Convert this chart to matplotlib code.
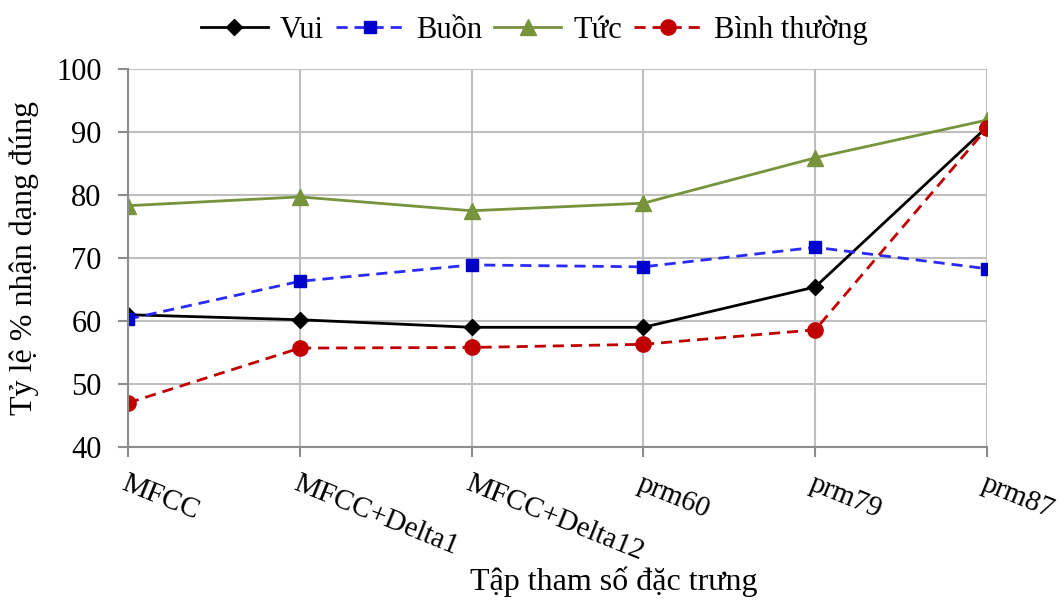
import numpy as np
import matplotlib.pyplot as plt

plt.rcParams['font.family'] = ['Liberation Serif', 'DejaVu Serif']

categories = ['MFCC', 'MFCC+Delta1', 'MFCC+Delta12', 'prm60', 'prm79', 'prm87']
vui = [61.0, 60.2, 59.0, 59.0, 65.4, 90.8]
buon = [60.3, 66.3, 68.9, 68.6, 71.7, 68.3]
tuc = [78.3, 79.7, 77.5, 78.7, 85.9, 91.9]
binh_thuong = [47.0, 55.7, 55.8, 56.3, 58.6, 90.6]

fig = plt.figure(figsize=(10.64, 6.01), dpi=100)
ax = fig.add_axes([128/1064, 1 - 447/601, (987-128)/1064, (447-69)/601])

x = np.arange(len(categories))
ax.plot(x, vui, color='black', lw=2, marker='D', ms=8, label='Vui')
ax.plot(x, buon, color='#2a2aff', lw=2, ls=(0, (4, 2.5)), marker='s', ms=9,
        mfc='#0000cc', mec='#0000cc', label='Buồn')
ax.plot(x, tuc, color='#77933c', lw=2, marker='^', ms=11, label='Tức')
ax.plot(x, binh_thuong, color='#c00000', lw=2, ls=(0, (4, 2.5)), marker='o', ms=11,
        label='Bình thường')

ax.set_xlim(0, len(categories) - 1)
ax.set_ylim(40, 100)
ax.set_yticks(range(40, 101, 10))
ax.set_xticks(x)
ax.set_xticklabels(categories, rotation=-22, ha='left', va='top', rotation_mode='anchor')
ax.grid(True, color='#bfbfbf', lw=1.5)
ax.set_axisbelow(True)
for s in ['top', 'right']:
    ax.spines[s].set_visible(False)
for s in ['left', 'bottom']:
    ax.spines[s].set_color('#8c8c8c')
    ax.spines[s].set_linewidth(1.5)
ax.tick_params(axis='both', colors='#8c8c8c', labelcolor='black', labelsize=22,
               length=7, width=1.5)
ax.tick_params(axis='x', labelsize=21, pad=10)
ax.tick_params(axis='y', pad=12)

ax.set_ylabel('Tỷ lệ % nhận dạng đúng', fontsize=23, labelpad=12)
ax.set_xlabel('Tập tham số đặc trưng', fontsize=23)
ax.xaxis.set_label_coords(0.565, -0.315)

fig.legend(loc='upper center', bbox_to_anchor=(0.502, 1.02), ncol=4, frameon=False,
           fontsize=22, handlelength=2.2, columnspacing=0.4, handletextpad=0.4)

fig.savefig('out.png', dpi=100)
